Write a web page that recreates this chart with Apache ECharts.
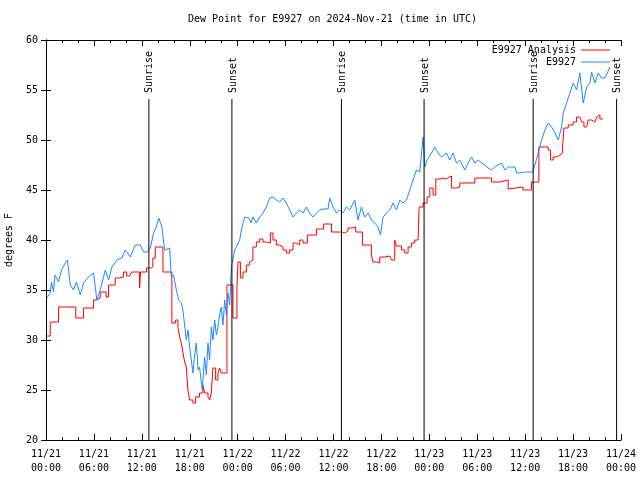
<!DOCTYPE html>
<html><head><meta charset="utf-8">
<script src="https://cdn.jsdelivr.net/npm/echarts@6/dist/echarts.min.js"></script>
<style>html,body{margin:0;padding:0;background:#fff}#c{width:640px;height:480px}</style>
</head><body><div id="c"></div>
<script>
const tickLabels = ['11/21\n00:00','11/21\n06:00','11/21\n12:00','11/21\n18:00','11/22\n00:00','11/22\n06:00','11/22\n12:00','11/22\n18:00','11/23\n00:00','11/23\n06:00','11/23\n12:00','11/23\n18:00','11/24\n00:00'];

// hours since 2024-11-21 00:00 UTC
const blueHours = [0.10,0.53,0.69,0.94,1.13,1.57,1.94,2.41,2.69,3.03,3.45,3.82,4.29,4.70,5.33,5.95,6.37,6.79,7.42,7.83,8.25,8.87,9.50,9.92,10.55,11.18,11.80,12.22,12.63,13.06,13.47,13.81,14.13,14.51,14.85,15.48,15.69,15.98,16.32,16.60,16.94,17.14,17.36,17.57,17.79,17.98,18.19,18.40,18.61,18.82,19.05,19.23,19.42,19.57,19.74,19.86,20.08,20.28,20.49,20.70,20.90,21.12,21.33,21.53,21.74,21.95,22.16,22.37,22.58,22.78,23.00,23.21,23.41,23.62,23.83,24.04,24.25,24.46,24.66,24.87,25.09,25.41,25.69,25.91,26.34,26.75,27.17,27.59,28.01,28.42,28.85,29.26,29.67,30.10,30.51,30.93,31.35,31.77,32.18,32.61,33.02,33.43,33.86,34.27,34.69,35.31,35.53,35.94,36.37,36.78,37.19,37.62,38.03,38.66,39.07,39.50,39.91,40.33,40.75,41.17,41.58,41.88,42.21,42.63,43.05,43.46,43.88,44.30,44.71,45.14,45.55,45.96,46.39,46.80,47.22,47.43,47.72,48.27,48.68,49.10,49.52,50.15,50.56,50.98,51.40,51.82,52.44,52.86,53.28,53.70,54.11,54.54,54.95,55.36,55.79,56.20,56.62,57.04,57.46,57.87,58.29,58.71,58.92,59.34,59.96,60.93,61.22,61.63,62.06,62.47,62.88,63.31,63.72,64.14,64.56,64.76,65.19,65.60,66.01,66.44,66.85,67.27,67.69,68.11,68.32,68.73,69.15,69.57,69.99,70.28,70.61];
const blueValues = [34.2,34.7,35.8,34.8,36.5,35.8,37.0,37.7,38.0,35.5,35.0,35.8,34.5,35.7,36.3,36.7,34.0,35.0,37.0,36.0,37.3,38.0,38.2,39.0,38.3,39.5,39.5,38.8,38.8,39.2,40.7,41.3,42.2,41.3,39.0,39.2,36.3,36.5,35.0,34.0,33.7,33.0,31.5,30.0,31.0,29.3,28.0,26.7,28.5,29.7,27.0,27.3,26.0,25.0,27.0,28.3,26.5,29.7,28.0,31.3,30.0,32.0,30.5,31.3,32.5,33.3,31.5,34.0,32.5,34.7,33.5,37.3,38.0,39.0,39.3,39.3,40.0,41.0,41.0,42.3,42.3,42.2,41.7,42.3,41.7,42.3,42.7,43.3,44.2,44.3,44.0,43.8,44.2,43.7,43.0,42.3,42.7,43.0,42.7,43.3,42.7,42.3,42.7,43.0,43.1,43.1,44.2,43.3,42.7,43.0,42.7,43.3,43.0,44.0,42.0,43.3,42.3,42.7,42.0,41.7,41.3,40.5,42.3,42.7,43.0,43.7,43.0,44.0,43.7,44.0,45.0,46.0,47.0,46.8,50.3,47.3,48.0,48.7,49.3,48.7,48.3,48.7,48.0,48.7,47.7,48.0,47.0,47.7,48.3,47.7,48.0,47.7,47.5,47.2,47.0,47.3,47.5,47.7,47.0,47.3,47.3,47.3,46.7,46.7,46.8,46.8,47.5,48.7,50.0,51.0,51.7,51.3,50.7,50.0,51.3,52.7,53.7,54.7,55.7,55.0,56.7,53.7,55.3,55.7,56.8,55.7,56.7,56.2,56.2,56.7,57.3];

const redHours = [0.02,0.53,1.57,3.73,4.70,5.95,6.33,6.79,7.52,7.83,8.67,9.08,9.71,10.09,10.46,10.71,11.72,11.84,12.59,13.10,13.38,13.68,14.64,15.76,16.23,16.52,16.73,16.94,17.14,17.36,17.57,17.77,17.98,18.40,18.73,19.23,19.65,19.86,20.28,20.49,20.70,20.90,21.24,21.53,21.74,21.95,22.66,23.41,23.91,24.04,24.34,24.66,25.09,25.50,25.71,25.91,26.34,26.75,27.17,27.59,27.79,28.10,28.42,28.85,29.26,29.67,30.10,30.51,30.93,31.35,31.77,32.18,32.73,33.86,34.77,35.74,36.99,37.40,37.82,38.37,38.78,39.62,40.75,40.95,41.38,41.79,42.42,43.05,43.26,43.67,43.86,44.51,44.92,45.34,45.76,46.18,46.59,46.72,47.22,47.72,48.06,48.47,48.81,49.31,49.72,50.15,50.48,50.78,51.40,51.82,53.70,55.79,56.83,57.87,58.08,59.71,60.80,61.72,62.47,62.88,63.18,63.51,63.93,64.35,64.69,64.85,65.39,66.01,66.44,66.85,67.07,67.36,67.69,67.89,68.32,68.73,68.95,69.15,69.36,69.74];
const redValues = [30.4,31.8,33.3,32.2,33.2,34.0,34.2,34.8,34.3,35.5,36.2,36.3,36.8,36.4,36.6,36.8,35.2,36.8,37.2,37.3,38.2,39.3,36.8,31.7,32.0,31.3,30.3,29.7,28.8,27.8,27.3,25.0,24.0,23.7,24.3,24.7,25.5,24.7,24.3,24.0,24.7,27.2,26.0,26.7,27.2,26.7,35.5,32.2,35.3,37.8,36.2,36.8,37.5,37.8,38.0,39.3,39.8,40.1,39.8,39.9,39.7,40.7,40.0,39.5,39.3,39.0,38.7,39.0,39.7,39.5,40.0,39.7,40.5,41.1,41.6,40.8,40.7,40.9,41.2,41.3,40.8,39.5,38.5,37.8,37.7,38.3,38.4,38.3,38.0,40.0,39.4,39.0,38.7,39.3,39.7,40.0,40.2,43.3,43.7,44.3,45.2,44.5,46.1,46.2,46.1,46.3,46.4,45.2,45.3,45.7,46.2,45.8,46.0,45.1,45.3,45.0,45.8,49.3,49.3,49.0,48.0,48.3,48.5,48.7,49.3,51.2,51.5,51.8,52.3,52.2,51.8,51.3,51.5,52.0,51.8,52.0,52.3,52.5,52.1,52.1];

const eventNames = ['Sunrise','Sunset','Sunrise','Sunset','Sunrise','Sunset'];
const eventHours = [12.88,23.28,36.99,47.34,61.00,71.45];

const FONT = '"DejaVu Sans Mono", monospace';
const pair = (xs, ys) => xs.map((x, i) => [x, ys[i]]);
const chart = echarts.init(document.getElementById('c'), null, {renderer: 'canvas'});

const axisCommon = {
  type: 'value', min: 0, max: 72, interval: 6,
  axisLine: {show: true, onZero: false, lineStyle: {color: '#000', width: 1}},
  axisTick: {show: true, inside: true, length: 6, lineStyle: {color: '#000'}},
  minorTick: {show: true, splitNumber: 3, length: 3, lineStyle: {color: '#000'}},
  splitLine: {show: false}
};
const yCommon = {
  type: 'value', min: 20, max: 60, interval: 5,
  axisLine: {show: true, lineStyle: {color: '#000', width: 1}},
  axisTick: {show: true, inside: true, length: 5, lineStyle: {color: '#000'}},
  splitLine: {show: false}
};

chart.setOption({
  animation: false,
  backgroundColor: '#fff',
  textStyle: {fontFamily: FONT},
  title: {
    text: 'Dew Point for E9927 on 2024-Nov-21 (time in UTC)',
    left: 188, top: 14, padding: 0,
    textStyle: {fontFamily: FONT, fontSize: 10, fontWeight: 'normal', color: '#000'}
  },
  legend: [
    {data: ['E9927 Analysis'], right: 30, top: 45, padding: 0, align: 'right', icon: 'rect',
     itemWidth: 29, itemHeight: 1, textStyle: {fontFamily: FONT, fontSize: 10, color: '#000'}},
    {data: ['E9927'], right: 30, top: 57, padding: 0, align: 'right', icon: 'rect',
     itemWidth: 29, itemHeight: 1, textStyle: {fontFamily: FONT, fontSize: 10, color: '#000'}}
  ],
  grid: {left: 46, right: 19, top: 40, bottom: 40, containLabel: false, outerBoundsMode: 'none'},
  xAxis: [
    Object.assign({}, axisCommon, {position: 'bottom',
      axisLabel: {formatter: v => tickLabels[Math.round(v / 6)], color: '#000', fontFamily: FONT, fontSize: 10, lineHeight: 14, margin: 7}}),
    Object.assign({}, axisCommon, {position: 'top', axisLabel: {show: false}})
  ],
  yAxis: [
    Object.assign({}, yCommon, {position: 'left', name: 'degrees F', nameLocation: 'middle', nameGap: 32,
      nameTextStyle: {fontFamily: FONT, fontSize: 10, color: '#000'},
      axisLabel: {color: '#000', fontFamily: FONT, fontSize: 10, margin: 8}}),
    Object.assign({}, yCommon, {position: 'right', axisLabel: {show: false}})
  ],
  series: [
    {name: 'E9927 Analysis', type: 'line', step: 'end', data: pair(redHours, redValues),
     symbol: 'none', lineStyle: {color: '#ff0000', width: 1}, itemStyle: {color: '#ff0000'}, z: 2},
    {name: 'E9927', type: 'line', data: pair(blueHours, blueValues),
     symbol: 'none', lineStyle: {color: '#1e88ff', width: 1}, itemStyle: {color: '#1e88ff'}, z: 3},
    {type: 'custom', silent: true, z: 4, clip: false,
     data: eventHours.map((h, i) => [h, i]),
     encode: {x: 0},
     renderItem: (params, api) => {
       const h = api.value(0);
       const name = eventNames[api.value(1)];
       const p0 = api.coord([h, 20]);
       const p1 = api.coord([h, 54.1]);
       const pt = api.coord([h, 54.7]);
       return {type: 'group', children: [
         {type: 'line', shape: {x1: p0[0], y1: p0[1], x2: p1[0], y2: p1[1]}, style: {stroke: '#000', lineWidth: 1}},
         {type: 'text', x: pt[0] + 1, y: pt[1], rotation: Math.PI / 2,
          style: {text: name, align: 'left', verticalAlign: 'middle', fill: '#000', font: '10px "DejaVu Sans Mono"'}}
       ]};
     }}
  ]
});
</script></body></html>
